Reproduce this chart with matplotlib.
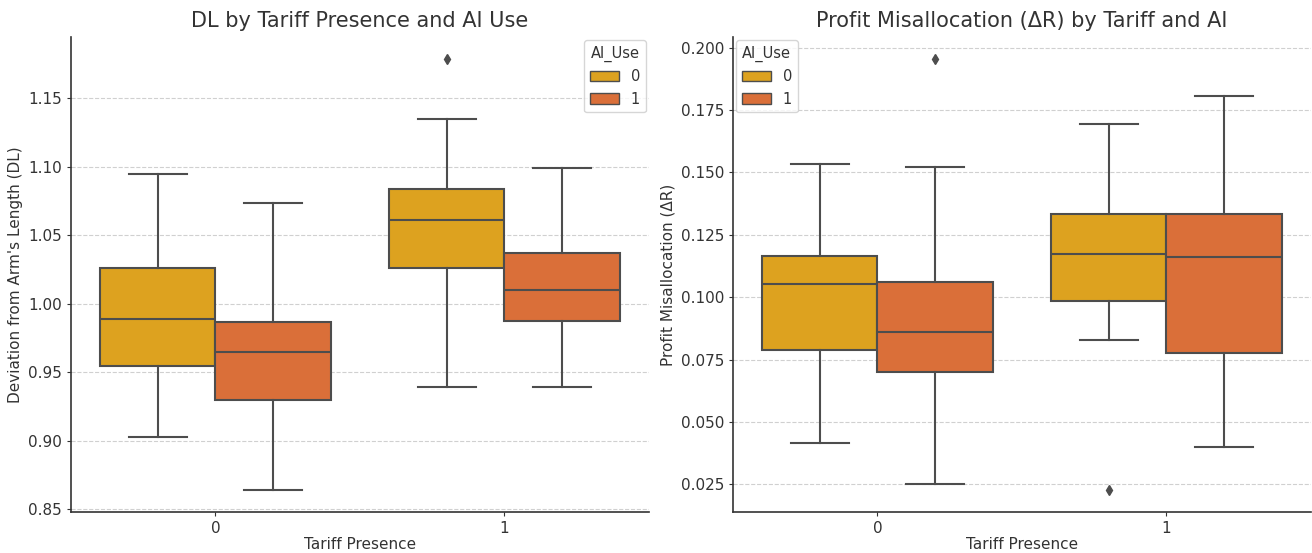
import matplotlib
matplotlib.use("Agg")
import matplotlib.pyplot as plt
from matplotlib.patches import Patch

# box stats: [whislo, q1, med, q3, whishi]
tariff = ["0", "1"]
ai_use = ["0", "1"]
colors = ["#DDA21F", "#DA6F39"]

dl_stats = {
    ("0", "0"): [0.9024, 0.9544, 0.9888, 1.0258, 1.0947],
    ("0", "1"): [0.8636, 0.9296, 0.9648, 0.9869, 1.0734],
    ("1", "0"): [0.9394, 1.0260, 1.0610, 1.0836, 1.1350],
    ("1", "1"): [0.9395, 0.9876, 1.0100, 1.0370, 1.0990],
}
dl_fliers = {("1", "0"): [1.179]}

dr_stats = {
    ("0", "0"): [0.0417, 0.0787, 0.1052, 0.1166, 0.1533],
    ("0", "1"): [0.0250, 0.0702, 0.0859, 0.1063, 0.1520],
    ("1", "0"): [0.0827, 0.0984, 0.1172, 0.1334, 0.1693],
    ("1", "1"): [0.0399, 0.0777, 0.1160, 0.1334, 0.1805],
}
dr_fliers = {("0", "1"): [0.1956], ("1", "0"): [0.0226]}

edge = "#4d4d4d"
txt = "#333333"


def draw(ax, stats, fliers, title, ylabel, legend_loc):
    for i, t in enumerate(tariff):
        for j, a in enumerate(ai_use):
            lo, q1, med, q3, hi = stats[(t, a)]
            s = dict(whislo=lo, q1=q1, med=med, q3=q3, whishi=hi,
                     fliers=fliers.get((t, a), []))
            pos = i - 0.2 + 0.4 * j
            ax.bxp([s], positions=[pos], widths=0.4, patch_artist=True,
                   boxprops=dict(facecolor=colors[j], edgecolor=edge, linewidth=1.5),
                   medianprops=dict(color=edge, linewidth=1.5),
                   whiskerprops=dict(color=edge, linewidth=1.5),
                   capprops=dict(color=edge, linewidth=1.5),
                   flierprops=dict(marker="d", markerfacecolor=edge,
                                   markeredgecolor=edge, markersize=5),
                   capwidths=0.2, manage_ticks=False)
    ax.set_xlim(-0.5, 1.5)
    ax.set_xticks([0, 1])
    ax.set_xticklabels(tariff)
    ax.margins(y=0.05)
    ax.set_title(title, fontsize=15, color=txt, pad=7)
    ax.set_xlabel("Tariff Presence", fontsize=11, color=txt, labelpad=1)
    ax.set_ylabel(ylabel, fontsize=11, color=txt)
    ax.tick_params(labelsize=11, colors=txt, length=3)
    ax.yaxis.grid(True, linestyle="--", color="#d0d0d0", linewidth=0.8)
    ax.set_axisbelow(True)
    for sp in ["top", "right"]:
        ax.spines[sp].set_visible(False)
    for sp in ["left", "bottom"]:
        ax.spines[sp].set_color(txt)
        ax.spines[sp].set_linewidth(1.2)
    handles = [Patch(facecolor=colors[k], edgecolor=edge, label=a)
               for k, a in enumerate(ai_use)]
    leg = ax.legend(handles=handles, title="AI_Use", loc=legend_loc, fontsize=10.5,
                    title_fontsize=10.5, handlelength=2.0, borderaxespad=0.2,
                    labelcolor=txt)
    leg.get_title().set_color(txt)


fig = plt.figure(figsize=(13.12, 5.53), dpi=100)
ax1 = fig.add_axes([0.0541, 0.0741, 0.4405, 0.8589])
ax2 = fig.add_axes([0.5587, 0.0741, 0.4405, 0.8589])

draw(ax1, dl_stats, dl_fliers, "DL by Tariff Presence and AI Use",
     "Deviation from Arm's Length (DL)", "upper right")
draw(ax2, dr_stats, dr_fliers, "Profit Misallocation (ΔR) by Tariff and AI",
     "Profit Misallocation (ΔR)", "upper left")

fig.savefig("out.png", dpi=100)
